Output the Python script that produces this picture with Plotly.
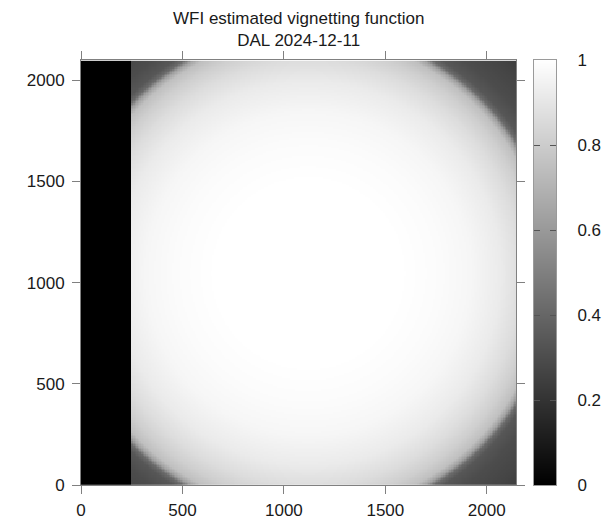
import numpy as np
import plotly.graph_objects as go

# Detector frame (pixels)
frame_width = 2144
frame_height = 2100
masked_columns = 245          # unilluminated columns on the left edge

# Centre of the illuminated field
field_centre_x = 1120
field_centre_y = 1045

# Radial profile of the estimated vignetting (radius in pixels -> relative response)
profile_radius = [0, 450, 650, 800, 950, 1050, 1120, 1170, 1195, 1215, 1240, 1300, 1400, 1500]
profile_value = [1.0, 1.0, 0.985, 0.965, 0.92, 0.865, 0.81, 0.75, 0.63, 0.42, 0.34, 0.30, 0.27, 0.23]

x_ticks = [0, 500, 1000, 1500, 2000]
y_ticks = [0, 500, 1000, 1500, 2000]
scale_ticks = [0, 0.2, 0.4, 0.6, 0.8, 1]

# Sampled map (8-pixel cells)
cell = 8
xc = np.arange(cell / 2, frame_width, cell)
yc = np.arange(cell / 2, frame_height, cell)
XX, YY = np.meshgrid(xc, yc)
rr = np.hypot(XX - field_centre_x, YY - field_centre_y)
vmap = np.interp(rr, profile_radius, profile_value)
vmap[XX < masked_columns] = 0.0

grey = [[0, "#000000"], [1, "#ffffff"]]
font = dict(family="Liberation Sans, Arial, sans-serif", size=17, color="#1a1a1a")
axis_col = "#808080"

fig = go.Figure()
fig.add_trace(go.Heatmap(
    x=xc, y=yc, z=vmap, colorscale=grey, zmin=0, zmax=1,
    showscale=False, hoverinfo="skip",
))

# Grey scale bar drawn on its own axes so the ticks sit inside on both edges
levels = np.linspace(0, 1, 256)
fig.add_trace(go.Heatmap(
    x=[0.5], y=levels, z=[[v] for v in levels], colorscale=grey, zmin=0, zmax=1,
    showscale=False, hoverinfo="skip", xaxis="x2", yaxis="y2",
))

W, H = 608, 522
ml, mr, mt, mb = 81, 52, 60, 37
pw = W - ml - mr
main_right = 435 / pw
bar_left = (534 - ml) / pw

fig.add_annotation(
    text="WFI estimated vignetting function<br>DAL 2024-12-11",
    xref="paper", yref="paper", x=(298 - ml) / pw, y=1,
    xanchor="center", yanchor="bottom", yshift=8,
    showarrow=False, font=dict(size=17),
)

fig.update_layout(
    width=W, height=H,
    margin=dict(l=ml, r=mr, t=mt, b=mb, pad=0, autoexpand=False),
    paper_bgcolor="white", plot_bgcolor="white",
    font=font,
    xaxis=dict(
        domain=[0, main_right], range=[0, frame_width],
        tickvals=x_ticks, ticks="outside", ticklen=8, tickcolor=axis_col,
        showline=True, linecolor=axis_col, linewidth=1, mirror="ticks",
        ticklabelstandoff=2, automargin=False,
        showgrid=False, zeroline=False,
    ),
    yaxis=dict(
        domain=[0, 1], range=[0, frame_height],
        tickvals=y_ticks, ticks="outside", ticklen=8, tickcolor=axis_col,
        showline=True, linecolor=axis_col, linewidth=1, mirror="ticks",
        ticklabelstandoff=4, automargin=False,
        showgrid=False, zeroline=False,
    ),
    xaxis2=dict(
        domain=[bar_left, 1], range=[0, 1], anchor="y2",
        showline=True, linecolor="#9a9a9a", mirror=True, automargin=False,
        ticks="", showticklabels=False, showgrid=False, zeroline=False,
    ),
    yaxis2=dict(
        domain=[0, 1], range=[0, 1], anchor="x2", side="right",
        tickvals=scale_ticks, ticktext=["0", "0.2", "0.4", "0.6", "0.8", "1"],
        ticks="inside", ticklen=6, tickcolor="#555555",
        showline=True, linecolor="#9a9a9a", mirror="allticks",
        ticklabelstandoff=17, automargin=False,
        showgrid=False, zeroline=False,
    ),
)

fig.write_html("out.html")
